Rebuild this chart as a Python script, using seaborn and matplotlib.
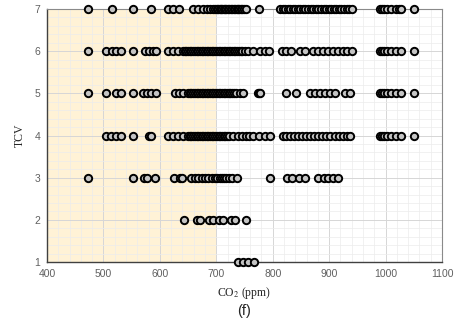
import matplotlib
matplotlib.use("Agg")
import matplotlib.pyplot as plt
import seaborn as sns
import pandas as pd
from matplotlib.ticker import MultipleLocator

# CO2 readings (ppm) observed at each TCV level
co2_tcv7 = [473, 516, 552, 584, 615, 624, 634, 659, 668, 677, 683, 688, 694,
            698, 701, 703, 706, 708, 711, 713, 716, 718, 721, 723, 726, 728,
            731, 733, 736, 738, 741, 743, 746, 749, 752,
            776, 813, 818, 822, 827, 831, 836, 840, 845, 849, 854, 858, 863,
            867, 872, 876, 881, 885, 890, 894, 899, 903, 908, 912, 917, 921,
            926, 931, 936, 940,
            990, 994, 998, 1002, 1010, 1018, 1024, 1028, 1050]
co2_tcv6 = [473, 505, 515, 523, 532, 553, 574, 581, 588, 594, 615, 624, 633,
            641, 644, 647, 650, 653, 656, 659, 662, 665, 668, 671, 674, 677,
            680, 683, 686, 689, 692, 695, 698, 701, 704, 707, 710, 713, 716,
            719, 722, 725, 728, 731, 734, 737, 740, 743, 746, 750, 756, 765,
            777, 786, 794, 816, 823, 832, 848, 857, 872, 880, 889, 898, 906,
            915, 924, 932, 940, 990, 994, 998, 1003, 1010, 1018, 1028, 1050]
co2_tcv5 = [473, 505, 523, 532, 553, 570, 577, 585, 594, 627, 634, 641,
            650, 653, 656, 659, 662, 665, 668, 671, 674, 677, 680, 683, 686,
            689, 692, 695, 698, 701, 704, 707, 710, 713, 716, 719, 722, 725,
            728, 732, 735, 742, 748, 774, 776, 778, 823, 842,
            866, 875, 884, 893, 901, 910, 928, 937,
            990, 994, 998, 1002, 1010, 1018, 1028, 1050]
co2_tcv4 = [505, 513, 522, 532, 553, 580, 585, 614, 623, 633, 641,
            650, 653, 656, 659, 662, 665, 668, 671, 674, 677, 680, 683, 686,
            689, 692, 695, 698, 701, 704, 707, 710, 713, 716, 719, 722,
            730, 738, 746, 752, 758, 765, 776, 786, 795,
            818, 824, 831, 838, 845, 852, 859, 866, 873, 880, 888, 895, 902,
            910, 917, 924, 931, 937, 990, 994, 998, 1003, 1010, 1018, 1028, 1050]
co2_tcv3 = [473, 553, 572, 578, 591, 625, 636, 640, 656, 662, 668, 674,
            680, 686, 692, 698, 702, 706, 710, 714, 718, 722, 728, 736, 796,
            825, 835, 847, 857, 881, 890, 898, 907, 916]
co2_tcv2 = [643, 665, 671, 687, 695, 704, 712, 726, 733, 753]
co2_tcv1 = [739, 748, 757, 766]

tcv_levels = [7, 6, 5, 4, 3, 2, 1]
co2_series = [co2_tcv7, co2_tcv6, co2_tcv5, co2_tcv4, co2_tcv3, co2_tcv2, co2_tcv1]

rows = []
for lvl, vals in zip(tcv_levels, co2_series):
    for v in vals:
        rows.append({"CO2": v, "TCV": lvl})
df = pd.DataFrame(rows)

x_ticks = [400, 500, 600, 700, 800, 900, 1000, 1100]
y_ticks = [1, 2, 3, 4, 5, 6, 7]
shade_range = (400, 700)

sns.set_style("white")
plt.rcParams["mathtext.fontset"] = "stix"
fig = plt.figure(figsize=(4.54, 3.22), dpi=100)
ax = fig.add_axes([0.1035, 0.1863, 0.8701, 0.7857])

ax.axvspan(*shade_range, color="#fff2d6", zorder=0, lw=0)

sns.scatterplot(data=df, x="CO2", y="TCV", ax=ax, s=28, marker="o",
                facecolor="#c4c4c4", edgecolor="black", linewidth=1.4,
                zorder=3, clip_on=False, legend=False)

ax.set_xlim(400, 1100)
ax.set_ylim(1, 7)
ax.set_xticks(x_ticks)
ax.set_yticks(y_ticks)
ax.xaxis.set_minor_locator(MultipleLocator(20))
ax.yaxis.set_minor_locator(MultipleLocator(0.2))
ax.set_axisbelow(True)
ax.grid(which="major", color="#d6d6d6", lw=0.7, zorder=1)
ax.grid(which="minor", color="#ececec", lw=0.5, zorder=1)

ax.tick_params(axis="both", which="both", length=0, labelsize=7.5,
               labelcolor="#606060", pad=5)
for lab in ax.get_xticklabels() + ax.get_yticklabels():
    lab.set_family("Liberation Sans")

for side in ["top", "right"]:
    ax.spines[side].set_color("#8a8a8a")
    ax.spines[side].set_linewidth(0.8)
for side in ["left", "bottom"]:
    ax.spines[side].set_color("#404040")
    ax.spines[side].set_linewidth(1.0)

ax.set_xlabel("CO$_2$ (ppm)", family="Liberation Serif", fontsize=8.5, labelpad=4)
ax.set_ylabel("TCV", family="Liberation Serif", fontsize=8.5, labelpad=6)

fig.text(0.537, 0.035, "(f)", ha="center", va="center", fontsize=10.5,
         family="Liberation Sans")

fig.savefig("out.png", dpi=100)
